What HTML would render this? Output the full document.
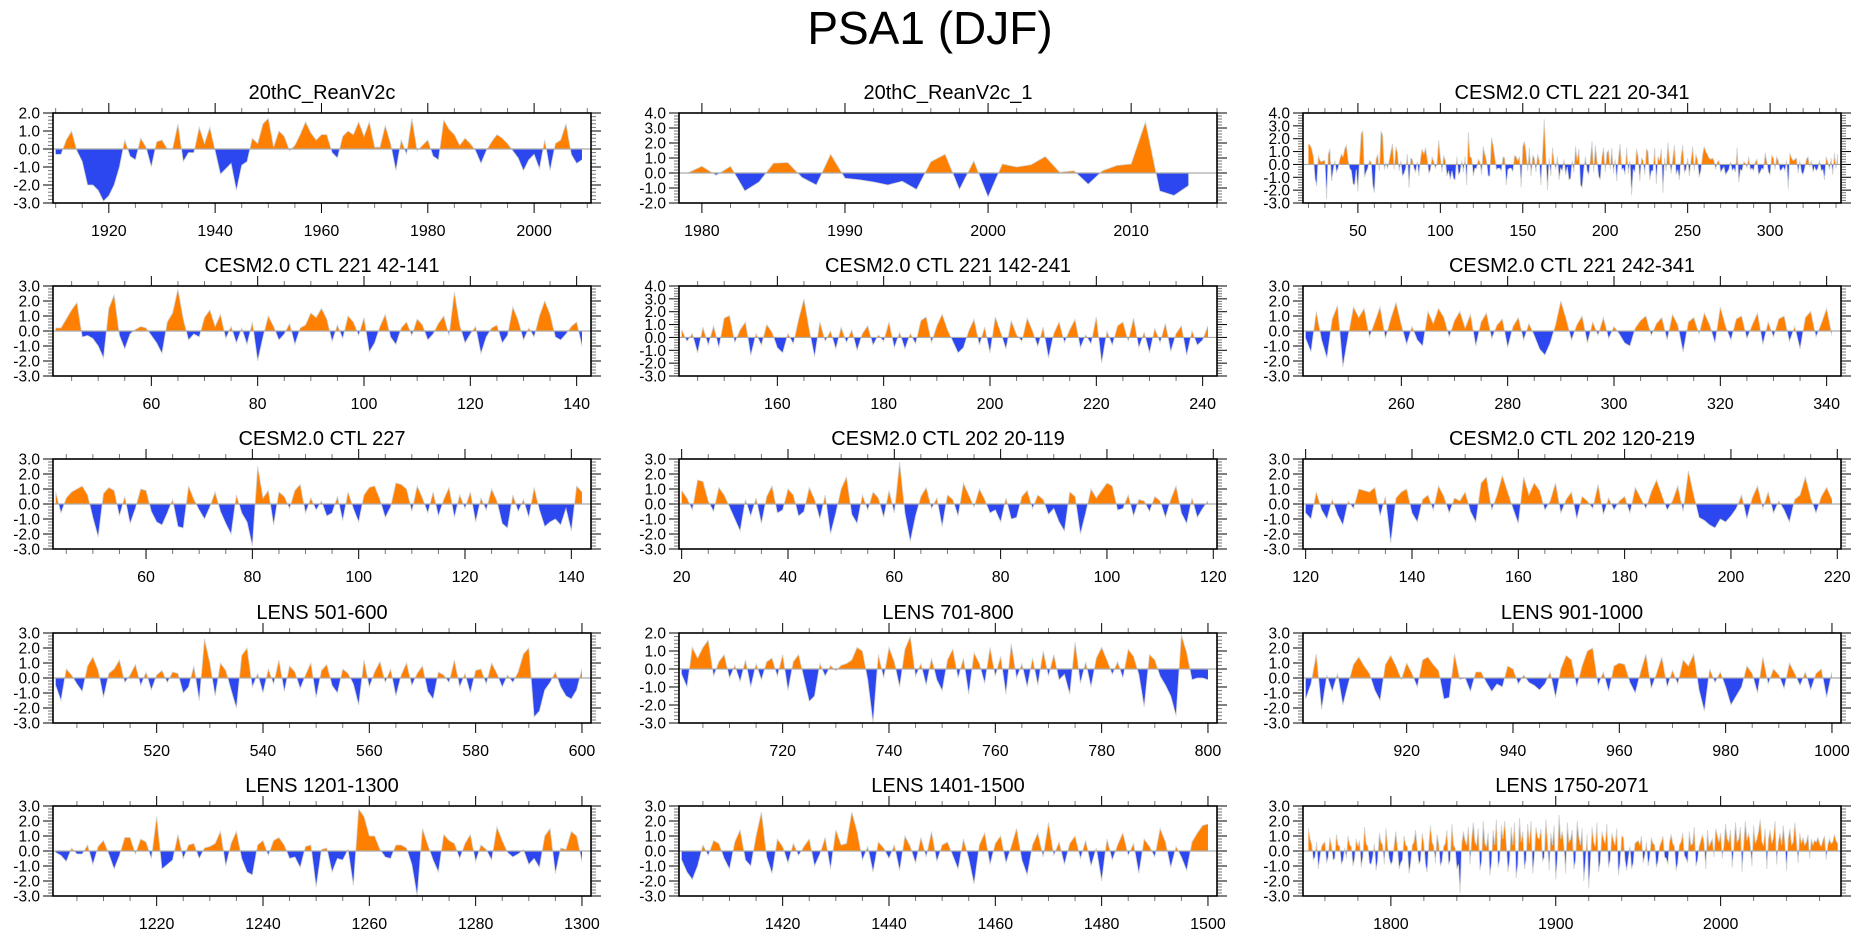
<!DOCTYPE html>
<html>
<head>
<meta charset="utf-8">
<style>
html,body{margin:0;padding:0;background:#fff;}
svg{display:block;font-family:"Liberation Sans",Arial,sans-serif;}
</style>
</head>
<body>
<svg id="fig" width="1861" height="936" viewBox="0 0 1861 936" xmlns="http://www.w3.org/2000/svg">
<text x="930" y="44" font-size="46" text-anchor="middle" fill="#000">PSA1 (DJF)</text>
</svg>
<script>
const titles = ["20thC_ReanV2c","20thC_ReanV2c_1","CESM2.0 CTL 221 20-341","CESM2.0 CTL 221 42-141","CESM2.0 CTL 221 142-241","CESM2.0 CTL 221 242-341","CESM2.0 CTL 227","CESM2.0 CTL 202 20-119","CESM2.0 CTL 202 120-219","LENS 501-600","LENS 701-800","LENS 901-1000","LENS 1201-1300","LENS 1401-1500","LENS 1750-2071"];
const startYears = [1910,1979,20,42,142,242,43,20,120,501,701,901,1201,1401,1750];
const yMins = [-3,-2,-3,-3,-3,-3,-3,-3,-3,-3,-3,-3,-3,-3,-3];
const yMaxs = [2,4,4,3,4,3,3,3,3,3,2,3,3,3,3];
const xTickStart = [1920,1980,50,60,160,260,60,20,120,520,720,920,1220,1420,1800];
const xTickEnd = [2000,2010,300,140,240,340,140,120,220,600,800,1000,1300,1500,2000];
const xTickStep = [20,10,50,20,20,20,20,20,20,20,20,20,20,20,100];
const xMinorStep = [5,2,10,5,5,5,5,5,5,5,5,5,5,5,20];

const p1 = [-0.3,-0.3,0.5,1.0,-0.1,-0.7,-2.0,-2.0,-2.3,-2.9,
-2.6,-2.0,-1.0,0.5,-0.4,-0.6,0.6,0.1,-1.0,0.4,
0.5,0.0,0.0,1.4,-0.7,-0.2,-0.2,1.2,0.3,1.2,
-0.1,-1.4,-1.1,-0.8,-2.3,-0.9,-0.7,0.6,0.3,1.4,
1.7,0.1,1.0,0.7,-0.1,0.2,0.8,1.5,0.9,0.5,
0.8,0.8,-0.2,-0.5,0.7,1.0,0.8,1.5,0.7,1.5,
0.1,0.1,1.3,0.3,-1.2,0.5,-0.3,1.7,-0.1,0.2,
0.5,-0.4,-0.6,1.6,1.1,0.8,0.2,0.6,0.3,-0.1,
-0.8,-0.1,0.4,0.8,0.6,0.3,-0.1,-0.5,-1.2,-0.6,
-0.3,-1.1,0.5,-1.2,0.3,0.5,1.4,-0.3,-0.8,-0.6];
const p2 = [0.0,0.45,-0.15,0.45,-1.2,-0.6,0.65,0.7,-0.3,-0.8,1.25,-0.35,-0.45,-0.6,-0.8,-0.55,-1.1,0.75,1.25,-1.1,0.8,-1.6,0.6,0.4,0.55,1.1,0.05,0.15,-0.75,0.15,0.5,0.6,3.4,-1.2,-1.5,-0.85];
const p3 = [1.6,1.5,1.2,0.6,-1.1,-1.7,0.7,0.3,0.2,0.3,
0.3,-2.7,0.8,1.2,-1.3,-0.5,0.3,-0.6,-0.3,0.4,
0.8,0.6,1.2,1.5,0.4,-0.3,-0.5,-1.5,-1.6,-0.4,
-2.1,0.4,2.4,2.6,-1.0,-0.6,-0.3,0.3,0.2,-1.6,
-2.2,0.4,0.8,-0.5,2.6,2.3,-0.4,0.1,-0.3,0.3,
1.0,1.6,-0.4,1.4,0.9,-0.5,0.3,-0.9,-0.7,-0.3,
0.8,-1.8,0.5,0.4,-0.3,-0.6,0.2,-0.9,0.5,1.2,
0.8,1.3,0.5,-0.7,-0.4,0.6,0.2,-0.3,0.1,1.9,
0.6,-0.6,0.7,0.3,-0.9,-0.5,-1.2,-0.5,-1.1,-1.2,
0.6,-0.8,-0.6,0.3,-0.6,0.6,-1.6,2.5,0.6,0.5,
-0.9,-0.3,-0.3,0.4,0.2,-0.8,1.4,0.8,0.3,-0.9,
-0.9,2.1,1.5,0.6,-0.4,-0.3,-0.3,-0.5,0.6,0.5,
-1.6,-0.4,-0.3,-0.3,-0.6,0.7,0.6,0.3,0.6,-1.8,
1.4,1.8,0.9,-0.5,1.3,-0.9,0.7,0.5,-0.6,0.8,
0.3,-1.6,0.9,3.5,0.6,-2.0,0.5,-0.9,1.3,0.2,
-0.4,0.6,-1.2,-0.3,-0.5,0.4,-0.8,-0.2,-1.2,-1.1,
0.3,-0.6,1.4,0.3,1.2,-1.6,-1.8,-0.4,0.6,-0.5,
-0.8,0.4,1.8,-0.6,1.5,0.3,-0.9,-1.2,0.6,1.3,
-0.6,0.9,1.1,-0.4,1.3,-0.7,0.4,-1.3,0.5,1.6,
-0.4,-0.3,-0.8,1.3,-0.7,0.3,-2.4,-0.4,-0.6,1.2,
0.6,-1.3,0.5,0.3,-0.8,1.2,1.0,-1.2,-0.5,-0.5,
1.3,-1.5,0.6,0.3,1.2,-2.2,0.5,-0.5,1.7,0.3,
-0.7,0.5,1.5,-0.8,-0.4,-1.2,0.6,1.5,-0.6,-0.4,
0.5,-0.9,0.3,1.4,-0.5,0.8,0.3,-1.0,-0.5,0.7,
1.4,1.0,0.8,0.5,0.4,0.5,0.3,-0.4,0.2,0.3,
-0.6,-0.4,-0.2,-0.8,-0.6,-0.4,0.2,-0.5,-0.3,-0.6,
1.3,-1.4,-0.4,-0.5,0.2,0.1,-0.3,0.6,-0.4,-0.3,
-0.5,0.2,0.4,-0.8,-0.6,-0.3,-0.4,0.9,0.2,-0.6,
-0.8,0.7,0.5,-0.4,0.6,0.3,-0.5,-0.4,-0.2,-0.5,
0.3,-1.9,0.9,0.5,0.3,0.4,0.5,-0.7,0.3,-0.6,
-0.8,-0.3,0.4,0.6,-0.2,0.3,-0.6,-0.2,-0.5,-0.3,
0.3,-0.5,-0.4,-1.2,0.6,0.2,-0.4,0.5,-0.8,0.9,
-0.3,0.8];
const p4 = [0.2,0.2,0.8,1.4,1.9,-0.4,-0.3,-0.5,-1.0,-1.8,
1.5,2.4,-0.3,-1.2,-0.2,0.1,0.3,0.2,-0.3,-0.8,
-1.5,0.6,1.2,2.8,0.8,-0.6,-0.2,-0.4,0.9,1.4,
0.3,1.1,-0.5,0.3,-0.8,0.2,-0.9,0.6,-2.0,-0.4,
1.0,0.3,-0.6,-0.2,0.5,-0.9,0.2,0.4,1.2,0.9,
1.5,0.8,-0.7,0.4,-0.5,1.0,0.6,-0.3,0.9,-1.4,
-0.8,0.3,1.1,-0.4,-0.9,0.2,0.6,-0.3,0.8,0.4,
-0.6,-0.2,0.5,1.0,-0.3,2.6,0.4,-0.8,-0.2,0.3,
-1.5,-0.4,0.2,0.4,-0.8,-0.3,1.6,0.7,-0.6,0.2,
-0.4,1.0,2.0,1.1,-0.4,-0.6,-0.2,0.3,0.6,-1.0];
const p5 = [0.6,-0.3,0.3,-1.2,0.8,-0.6,0.9,-0.8,1.5,1.7,
-0.4,0.6,1.2,-1.4,0.3,-0.6,1.0,0.4,-0.8,-1.2,
0.3,-0.5,1.4,3.0,0.6,-1.5,1.2,-0.3,0.5,-0.9,
0.8,-0.4,0.6,-1.0,0.3,0.9,-0.6,0.2,-0.3,1.2,
-0.8,0.4,-0.9,0.3,-0.5,1.3,1.6,-0.4,0.9,1.8,
0.6,-0.3,-1.2,-0.8,0.5,1.4,-0.6,0.8,-1.2,1.6,
0.4,-0.9,1.3,0.2,-0.3,1.5,0.5,-0.7,0.8,-1.6,
0.3,1.2,-0.4,0.6,1.4,-0.8,0.2,-0.5,1.6,-2.0,
0.5,-0.6,0.9,1.2,-0.3,1.5,-0.8,0.4,-1.2,0.7,
-0.4,1.1,-1.1,0.3,0.9,-1.4,0.5,-0.6,-0.2,0.9];
const p6 = [-0.5,-1.4,1.3,-0.6,-1.8,0.8,1.7,-2.4,-0.3,1.6,
0.9,1.5,-0.4,0.6,1.6,-0.5,0.8,1.9,0.4,-0.9,
0.3,-0.6,-1.0,1.3,0.5,1.5,0.9,-0.4,0.7,1.3,
0.2,1.1,-1.0,0.6,1.2,-0.5,0.4,0.8,-1.1,0.3,
0.9,-0.6,0.5,-0.3,-1.2,-1.6,-0.8,0.4,2.0,0.8,
-0.6,0.4,1.0,-0.8,0.6,-0.3,0.9,-0.5,0.3,-0.2,
-0.8,-1.0,0.2,0.7,1.0,-0.3,0.5,0.9,-0.6,1.1,
0.4,-1.4,0.6,0.9,-0.2,1.2,0.4,-0.8,1.6,0.3,
-0.6,0.8,1.0,-0.5,0.4,1.2,-0.9,0.6,-0.4,0.8,
1.0,-0.7,0.3,-1.2,0.9,1.3,-0.4,0.5,1.5,-0.3];
const p7 = [0.8,-0.6,0.4,0.8,1.0,1.2,0.6,-0.9,-2.2,0.7,
1.1,0.9,-0.8,0.5,-1.3,-0.3,1.0,0.9,-0.5,-1.2,
-1.4,-0.6,0.3,-1.5,-1.6,1.2,0.3,-0.4,-1.0,-0.2,
0.8,-0.5,-1.3,-2.0,0.6,-0.6,-1.2,-2.8,2.5,0.4,
0.9,-1.4,0.8,0.5,-0.3,0.9,1.3,-0.6,0.4,-0.4,
0.2,-0.8,-0.6,0.5,-1.1,0.8,-0.3,-1.2,0.6,1.1,
1.2,0.3,-0.9,-0.2,1.4,1.3,1.0,-0.5,1.2,0.4,
-0.6,0.8,-0.8,0.3,1.1,-0.9,0.6,-0.3,0.8,-1.2,
0.4,-0.4,1.0,0.2,-1.3,-1.6,0.6,-0.5,0.3,-0.9,
1.1,-0.4,-1.5,-1.2,-1.0,-1.4,-0.3,-1.8,1.2,0.8];
const p8 = [0.9,0.4,-0.4,1.6,1.5,0.2,-0.5,1.1,0.6,-0.2,
-1.0,-1.8,0.3,-0.8,0.4,-1.3,0.5,1.2,-0.6,-0.4,
1.0,0.6,-0.8,-0.5,1.1,0.3,-1.0,0.6,-2.0,-0.6,
1.0,1.8,-0.7,-1.3,0.6,-0.4,0.8,0.4,-0.9,0.9,
-0.6,2.8,-0.6,-2.5,-0.8,0.5,1.1,-0.3,0.4,-1.5,
0.6,0.3,-0.8,1.4,0.6,-0.2,1.0,0.3,-0.6,-0.4,
-1.2,0.4,-1.0,-0.9,0.5,0.9,-0.3,0.6,0.3,-0.7,
-0.3,-1.2,-1.8,0.8,0.5,-2.0,-0.6,1.0,0.4,0.9,
1.4,1.2,-0.4,-0.3,0.6,-0.8,0.3,0.2,-0.5,0.5,
0.2,-0.9,0.3,1.2,-0.6,-1.3,0.4,-0.9,-0.3,0.2];
const p9 = [-0.6,-1.0,0.8,-0.4,-1.0,0.3,-0.7,-1.4,0.2,-0.3,
1.0,0.9,0.8,1.1,-0.8,0.5,-2.6,0.4,0.8,1.0,
-0.6,-1.2,0.3,0.6,-0.4,1.2,0.5,-0.6,0.4,0.2,
0.8,-0.5,-1.2,1.4,1.8,-0.4,0.6,1.9,0.8,-0.3,
-1.3,1.8,0.6,1.4,0.9,-0.4,0.2,1.4,-0.6,0.3,
0.8,-1.0,0.5,0.2,-0.3,1.3,-0.7,0.4,-0.4,0.2,
0.5,-0.6,1.1,0.4,-0.3,0.8,1.6,0.6,-0.4,0.2,
1.2,-0.5,2.2,0.6,-0.9,-1.1,-1.4,-1.6,-1.0,-1.2,
-0.8,-0.3,0.6,-1.0,0.4,1.2,-0.3,0.8,-0.6,0.2,
-0.4,-1.2,0.3,0.6,1.8,0.4,-0.6,0.5,1.1,0.3];
const p10 = [-0.5,-1.5,0.6,0.2,-0.4,-0.9,0.8,1.4,0.5,-1.3,
0.3,0.6,1.2,-0.3,0.2,0.9,-0.5,0.4,-0.8,0.2,
0.5,-0.3,0.4,0.3,-1.0,-0.6,0.8,-1.5,2.6,1.0,
-1.2,1.0,0.5,-0.8,-2.0,1.5,2.0,-0.6,0.3,-1.0,
0.6,-0.4,1.2,-0.9,0.8,0.4,-0.7,0.2,1.0,-1.3,
0.5,0.9,-0.5,-1.0,0.6,0.3,-0.4,-1.8,1.2,-0.6,
0.4,1.1,-0.3,0.6,-1.2,0.2,1.0,-0.5,0.3,0.8,
-0.9,-1.4,0.4,0.2,-0.3,1.2,-0.6,0.3,-1.0,0.5,
0.6,-0.4,1.0,0.3,-0.6,0.2,-0.3,0.4,1.6,2.0,
-2.6,-2.2,-0.8,-0.3,0.4,-0.6,-1.2,-1.4,-0.8,0.6];
const p11 = [-0.3,-1.0,1.2,0.6,1.2,1.6,-0.4,0.4,0.8,-0.5,
0.2,-0.7,0.5,-1.0,0.3,-0.6,0.4,0.6,-0.4,0.8,
-1.2,0.4,0.8,-0.5,-1.8,-1.5,0.3,-0.4,0.2,-0.1,
0.2,0.3,0.5,1.2,1.0,-0.6,-3.0,0.8,-0.5,1.2,
0.4,-1.0,1.1,1.8,-0.4,0.3,-0.9,0.6,-0.6,-1.2,
0.5,1.1,-0.5,0.6,-1.4,0.9,0.3,-0.8,1.2,-0.4,
0.7,-1.4,1.4,-0.5,0.3,-1.0,0.6,-0.9,1.0,-0.4,
0.8,-0.6,-0.3,-1.4,1.5,-0.8,0.4,-1.0,0.6,1.2,
0.5,-0.3,0.4,-0.5,1.1,0.7,-0.3,-2.1,0.8,0.5,
-0.4,-0.9,-1.5,-2.6,1.9,0.9,-0.6,-0.5,-0.5,-0.6];
const p12 = [-1.4,-0.4,1.6,-2.1,0.2,-0.9,0.3,-1.8,-0.4,0.9,
1.4,0.8,0.3,-0.8,-1.5,0.9,1.5,0.8,-0.1,1.0,
0.3,-0.6,1.2,1.4,0.9,0.5,-1.4,-1.3,1.6,-0.1,
0.0,-0.9,0.4,0.4,-0.3,-0.9,-0.4,-0.6,0.8,0.6,
-0.4,0.2,-0.3,-0.5,-0.8,-0.4,0.4,-1.3,0.6,1.5,
1.2,-0.6,0.8,1.8,2.0,-0.5,0.4,-0.9,0.8,1.0,
0.9,-0.3,-1.0,0.4,1.6,-0.7,0.3,1.4,-0.6,0.5,
-0.4,1.2,0.8,1.6,-0.8,-2.2,0.6,-0.3,0.4,-0.6,
-1.8,-1.2,-0.6,0.8,0.3,-1.0,1.4,-0.4,0.6,0.2,
-0.7,1.0,0.3,-0.5,0.4,-0.8,0.3,0.6,-1.3,0.4];
const p13 = [-0.1,-0.3,-0.7,0.2,-0.2,-0.2,0.4,-0.9,0.3,0.7,
-0.2,-1.2,-0.3,0.9,0.9,-0.2,0.8,0.6,-0.5,2.3,
-1.2,-0.9,-0.6,1.1,-0.5,0.4,0.5,-0.5,0.2,0.3,
0.5,1.3,-1.0,0.5,1.3,-0.5,-1.4,-1.6,0.4,0.7,
-0.3,0.7,0.9,0.4,-0.5,-0.4,-1.1,0.3,0.4,-2.4,
0.1,0.2,-1.4,-0.5,-0.6,0.1,-2.3,2.8,2.3,1.0,
1.0,0.1,-0.4,-0.5,0.4,0.4,0.2,-0.9,-3.0,1.5,
0.4,-0.6,-1.4,1.1,0.7,0.5,-0.5,0.5,1.1,-0.7,
0.4,0.1,-0.6,1.6,0.7,-0.1,-0.4,-0.2,0.1,-0.9,
-0.5,-1.1,1.0,1.5,-1.5,0.2,0.1,1.3,1.0,-0.7];
const p14 = [-0.6,-1.4,-1.9,-1.0,0.4,-0.3,0.7,0.5,-0.5,-1.2,
0.6,1.4,-0.6,-1.0,1.0,2.6,-0.4,-1.5,0.8,0.3,
-0.8,0.5,-0.3,0.3,0.8,-1.0,-0.2,0.9,-1.2,1.4,
0.4,0.5,2.6,1.3,-0.6,0.3,-1.4,0.6,0.2,-0.5,
0.4,-1.3,1.0,0.3,-0.8,0.9,-0.4,1.3,-0.7,0.4,
0.6,-0.3,-1.2,0.8,-0.5,-2.2,0.4,1.2,-0.9,0.5,
1.0,-0.8,0.3,1.5,-0.6,-1.6,0.4,1.2,-0.4,1.9,
-0.3,0.6,-0.9,0.5,1.0,-0.5,0.7,-1.0,0.2,-2.0,
0.8,-0.6,0.4,1.2,-0.3,0.5,-1.5,0.8,0.3,-0.4,
1.5,0.6,-1.1,0.3,-0.4,-1.3,0.6,1.2,1.7,1.8];
const p15 = [1.5,0.8,0.4,-0.6,-0.4,0.6,-1.2,-0.4,0.3,0.5,
0.6,-0.8,-0.4,0.9,0.3,-0.6,-0.5,1.1,0.4,0.3,
-0.9,-0.6,0.2,-0.5,1.0,0.4,0.3,-1.0,-0.5,0.8,
0.3,0.7,-1.1,-0.4,1.6,0.5,0.3,-0.8,-0.9,-0.4,
0.5,-1.3,-0.6,1.2,0.6,0.4,-0.9,1.5,0.3,-0.5,
-0.9,-0.7,0.4,1.3,0.2,-1.2,-0.8,-0.6,1.0,0.4,
0.3,-1.5,-0.8,0.4,0.6,1.4,0.2,-0.9,-0.6,1.2,
0.5,-0.9,-1.4,0.4,1.7,0.6,0.3,-0.8,1.1,0.5,
-1.0,-0.7,0.3,0.5,1.4,-0.9,-0.6,1.8,0.4,0.2,
-1.2,-0.9,-2.8,0.5,1.3,0.7,0.4,1.6,-0.9,0.8,
1.9,0.6,0.4,1.5,-1.3,-0.7,2.0,0.5,0.3,1.2,
-1.6,-0.8,1.4,0.4,2.1,-1.1,-0.6,1.7,0.8,2.0,
0.5,-1.4,-0.6,1.6,0.4,1.9,-1.8,-0.9,2.2,0.6,
1.3,-1.2,-0.6,1.8,0.5,2.0,-1.5,-0.4,1.6,0.9,
0.8,1.5,-0.7,-0.4,2.1,0.6,-1.3,1.2,0.4,1.7,
-1.9,-0.5,2.4,0.8,1.3,0.3,-1.5,1.9,0.6,0.8,
1.4,-1.2,-0.6,2.0,0.9,0.4,1.5,-2.0,-0.7,1.1,
-2.5,-0.8,1.6,0.6,0.3,1.9,-1.4,-0.7,1.3,0.8,
0.5,1.8,-1.1,-0.6,1.2,0.7,0.4,1.5,-1.6,-0.8,
1.0,0.9,-0.6,-1.3,-0.5,0.3,-1.2,-0.8,0.5,0.6,
0.7,0.4,1.0,-0.8,-0.3,0.6,-1.0,-0.4,0.9,0.5,
0.4,-1.1,-0.7,0.3,0.6,1.0,-0.4,-0.5,-0.9,0.6,
1.1,0.5,0.3,-1.3,-0.8,0.4,0.6,1.2,-0.3,-0.5,
-0.8,1.3,0.4,0.5,1.6,-1.0,-0.6,0.3,0.7,1.1,
0.5,-1.2,1.4,0.3,0.6,0.8,-0.4,1.5,1.0,0.6,
1.2,-0.5,0.4,1.8,0.8,0.6,1.4,-1.1,0.3,1.9,
0.6,0.8,1.6,-1.4,0.5,2.0,0.7,1.2,0.4,-1.0,
1.7,0.5,0.8,1.3,2.1,0.6,0.4,1.5,-1.2,0.8,
1.4,0.5,0.9,2.0,-0.9,0.6,1.2,0.4,1.7,0.5,
-1.3,0.8,1.5,0.4,0.6,1.9,0.7,-0.8,1.2,0.5,
0.9,0.4,0.6,1.1,-0.5,0.8,0.4,0.7,0.6,0.9,
0.5,0.3,0.7,1.0,-0.6,0.4,0.8,0.5,0.6,1.1,
0.7,0.5];
const seriesValues = [p1,p2,p3,p4,p5,p6,p7,p8,p9,p10,p11,p12,p13,p14,p15];

const NS = "http://www.w3.org/2000/svg";
const svg = document.getElementById("fig");
const colLeft = [53, 679, 1303];
const rowTop = [113, 286, 459, 633, 806];
const PW = 538, PH = 90;
const ORANGE = "#ff8000", BLUE = "#2c47ef";

function mk(tag, attrs, parent) {
  const e = document.createElementNS(NS, tag);
  for (const k in attrs) e.setAttribute(k, attrs[k]);
  (parent || svg).appendChild(e);
  return e;
}

function drawPanel(i) {
  const vals = seriesValues[i];
  const first = startYears[i];
  const last = first + vals.length - 1;
  const span = last - first;
  const padL = span > 200 ? 3.3 : (span > 60 ? 0.5 : 0.6);
  const padR = span > 200 ? 2 : (span > 60 ? 1.7 : 2.0);
  const xmin = first - padL, xmax = last + padR;
  const ymin = yMins[i], ymax = yMaxs[i];
  const L = colLeft[i % 3], T = rowTop[Math.floor(i / 3)];
  const xs = v => L + (v - xmin) / (xmax - xmin) * PW;
  const ys = v => T + (ymax - v) / (ymax - ymin) * PH;

  const g = mk("g", {});
  
  

  const title = mk("text", {x: L + PW / 2, y: T - 14, "font-size": 20, "text-anchor": "middle", fill: "#000"}, g);
  title.textContent = titles[i];
  
  

  const pts = [];
  for (let k = 0; k < vals.length; k++) {
    const x = first + k, v = vals[k];
    if (k > 0) {
      const pv = vals[k - 1];
      if ((pv > 0 && v < 0) || (pv < 0 && v > 0)) {
        const t = pv / (pv - v);
        pts.push([x - 1 + t, 0]);
      }
    }
    pts.push([x, v]);
  }
  const zeroY = ys(0);
  let pos = "M" + xs(pts[0][0]).toFixed(2) + "," + zeroY.toFixed(2);
  let neg = pos;
  for (const p of pts) {
    pos += "L" + xs(p[0]).toFixed(2) + "," + ys(Math.max(p[1], 0)).toFixed(2);
    neg += "L" + xs(p[0]).toFixed(2) + "," + ys(Math.min(p[1], 0)).toFixed(2);
  }
  const endX = xs(pts[pts.length - 1][0]).toFixed(2);
  pos += "L" + endX + "," + zeroY.toFixed(2) + "Z";
  neg += "L" + endX + "," + zeroY.toFixed(2) + "Z";
  const pp = mk("path", {d: pos, fill: ORANGE, stroke: "none"}, g);
  
  
  const np = mk("path", {d: neg, fill: BLUE, stroke: "none"}, g);
  
  
  let line = "";
  vals.forEach((v, k) => { line += (k ? "L" : "M") + xs(first + k).toFixed(2) + "," + ys(v).toFixed(2); });
  const lp = mk("path", {d: line, fill: "none", stroke: "#d0d0d0", "stroke-width": 0.8}, g);
  
  
  const zl = mk("line", {x1: L, x2: L + PW, y1: zeroY, y2: zeroY, stroke: "#aaaaaa", "stroke-width": 1.2}, g);
  
  

  for (let v = ymin; v <= ymax + 1e-9; v += 0.2) {
    const y = ys(v);
    const major = Math.abs(v - Math.round(v)) < 1e-6;
    const len = major ? 10 : 5;
    const col = major ? "#000" : "#777";
    mk("line", {x1: L - len, x2: L, y1: y, y2: y, stroke: col, "stroke-width": 1}, g);
    mk("line", {x1: L + PW, x2: L + PW + len, y1: y, y2: y, stroke: col, "stroke-width": 1}, g);
    if (major) {
      const t = mk("text", {x: L - 13, y: y + 5.5, "font-size": 15.5, "text-anchor": "end", fill: "#000"}, g);
      t.textContent = Math.round(v).toFixed(1);
      
      
    }
  }
  const ms = xMinorStep[i];
  const startMinor = Math.ceil(xmin / ms) * ms;
  for (let x = startMinor; x <= xmax; x += ms) {
    const px = xs(x);
    const major = ((x - xTickStart[i]) % xTickStep[i] === 0);
    const len = major ? 10 : 5;
    const col = major ? "#000" : "#777";
    mk("line", {x1: px, x2: px, y1: T - len, y2: T, stroke: col, "stroke-width": 1}, g);
    mk("line", {x1: px, x2: px, y1: T + PH, y2: T + PH + len, stroke: col, "stroke-width": 1}, g);
  }
  for (let x = xTickStart[i]; x <= xTickEnd[i]; x += xTickStep[i]) {
    const t = mk("text", {x: xs(x), y: T + PH + 33, "font-size": 16, "text-anchor": "middle", fill: "#000"}, g);
    t.textContent = x;
    
    
  }
  const fr = mk("rect", {x: L, y: T, width: PW, height: PH, fill: "none", stroke: "#000", "stroke-width": 1.6}, g);
  
  
}
for (let i = 0; i < 15; i++) drawPanel(i);
</script>
</body>
</html>
